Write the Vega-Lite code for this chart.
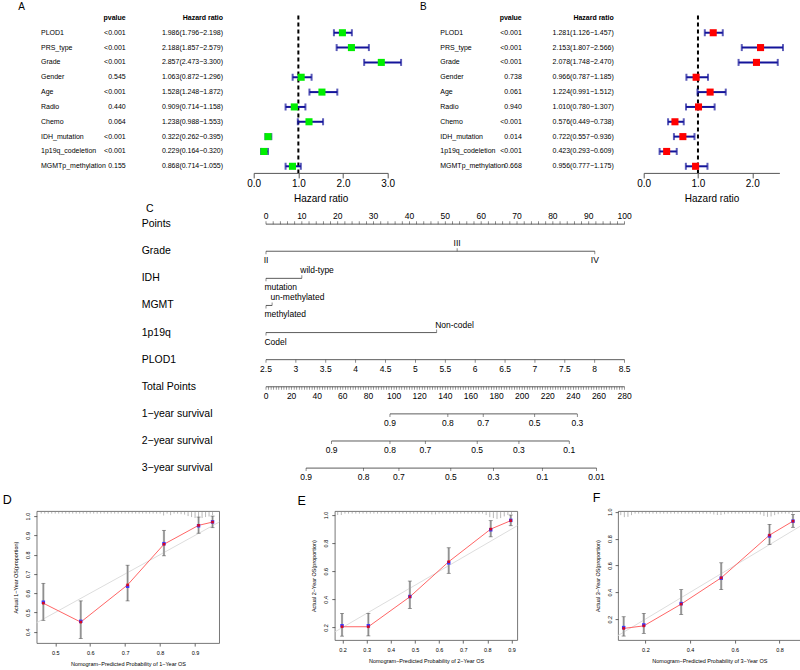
{
"$schema":"https://vega.github.io/schema/vega-lite/v6.json",
"padding":{"left":1.7,"top":1.6,"right":0,"bottom":0},
"background":"white",
"config":{"view":{"stroke":null},"font":"Liberation Sans","title":{"font":"Liberation Sans","fontWeight":"normal","color":"black"},"axis":{"labelFont":"Liberation Sans","titleFont":"Liberation Sans","titleFontWeight":"normal","labelColor":"black","titleColor":"black","grid":false,"labelOverlap":false},"text":{"font":"Liberation Sans","color":"black"}},
"datasets":{
"forestA":[
{"var":"PLOD1","pvalue":"<0.001","Hazard ratio":"1.986(1.796−2.198)","hr":1.986,"lo":1.796,"hi":2.198},
{"var":"PRS_type","pvalue":"<0.001","Hazard ratio":"2.188(1.857−2.579)","hr":2.188,"lo":1.857,"hi":2.579},
{"var":"Grade","pvalue":"<0.001","Hazard ratio":"2.857(2.473−3.300)","hr":2.857,"lo":2.473,"hi":3.3},
{"var":"Gender","pvalue":"0.545","Hazard ratio":"1.063(0.872−1.296)","hr":1.063,"lo":0.872,"hi":1.296},
{"var":"Age","pvalue":"<0.001","Hazard ratio":"1.528(1.248−1.872)","hr":1.528,"lo":1.248,"hi":1.872},
{"var":"Radio","pvalue":"0.440","Hazard ratio":"0.909(0.714−1.158)","hr":0.909,"lo":0.714,"hi":1.158},
{"var":"Chemo","pvalue":"0.064","Hazard ratio":"1.238(0.988−1.553)","hr":1.238,"lo":0.988,"hi":1.553},
{"var":"IDH_mutation","pvalue":"<0.001","Hazard ratio":"0.322(0.262−0.395)","hr":0.322,"lo":0.262,"hi":0.395},
{"var":"1p19q_codeletion","pvalue":"<0.001","Hazard ratio":"0.229(0.164−0.320)","hr":0.229,"lo":0.164,"hi":0.32},
{"var":"MGMTp_methylation","pvalue":"0.155","Hazard ratio":"0.868(0.714−1.055)","hr":0.868,"lo":0.714,"hi":1.055}
],
"forestB":[
{"var":"PLOD1","pvalue":"<0.001","Hazard ratio":"1.281(1.126−1.457)","hr":1.281,"lo":1.126,"hi":1.457},
{"var":"PRS_type","pvalue":"<0.001","Hazard ratio":"2.153(1.807−2.566)","hr":2.153,"lo":1.807,"hi":2.566},
{"var":"Grade","pvalue":"<0.001","Hazard ratio":"2.078(1.748−2.470)","hr":2.078,"lo":1.748,"hi":2.47},
{"var":"Gender","pvalue":"0.738","Hazard ratio":"0.966(0.787−1.185)","hr":0.966,"lo":0.787,"hi":1.185},
{"var":"Age","pvalue":"0.061","Hazard ratio":"1.224(0.991−1.512)","hr":1.224,"lo":0.991,"hi":1.512},
{"var":"Radio","pvalue":"0.940","Hazard ratio":"1.010(0.780−1.307)","hr":1.01,"lo":0.78,"hi":1.307},
{"var":"Chemo","pvalue":"<0.001","Hazard ratio":"0.576(0.449−0.738)","hr":0.576,"lo":0.449,"hi":0.738},
{"var":"IDH_mutation","pvalue":"0.014","Hazard ratio":"0.722(0.557−0.936)","hr":0.722,"lo":0.557,"hi":0.936},
{"var":"1p19q_codeletion","pvalue":"<0.001","Hazard ratio":"0.423(0.293−0.609)","hr":0.423,"lo":0.293,"hi":0.609},
{"var":"MGMTp_methylation","pvalue":"0.668","Hazard ratio":"0.956(0.777−1.175)","hr":0.956,"lo":0.777,"hi":1.175}
],
"hdr":[{"var":"header","key":"pvalue"},{"var":"header","key":"Hazard ratio"}],
"refline":[{"hr":1}],
"rows":[{"row":"Points"},{"row":"Grade"},{"row":"IDH"},{"row":"MGMT"},{"row":"1p19q"},{"row":"PLOD1"},{"row":"Total Points"},{"row":"1−year survival"},{"row":"2−year survival"},{"row":"3−year survival"}],
"pts":[{"row":"Points","v":0},{"row":"Points","v":2},{"row":"Points","v":4},{"row":"Points","v":6},{"row":"Points","v":8},{"row":"Points","v":10},{"row":"Points","v":12},{"row":"Points","v":14},{"row":"Points","v":16},{"row":"Points","v":18},{"row":"Points","v":20},{"row":"Points","v":22},{"row":"Points","v":24},{"row":"Points","v":26},{"row":"Points","v":28},{"row":"Points","v":30},{"row":"Points","v":32},{"row":"Points","v":34},{"row":"Points","v":36},{"row":"Points","v":38},{"row":"Points","v":40},{"row":"Points","v":42},{"row":"Points","v":44},{"row":"Points","v":46},{"row":"Points","v":48},{"row":"Points","v":50},{"row":"Points","v":52},{"row":"Points","v":54},{"row":"Points","v":56},{"row":"Points","v":58},{"row":"Points","v":60},{"row":"Points","v":62},{"row":"Points","v":64},{"row":"Points","v":66},{"row":"Points","v":68},{"row":"Points","v":70},{"row":"Points","v":72},{"row":"Points","v":74},{"row":"Points","v":76},{"row":"Points","v":78},{"row":"Points","v":80},{"row":"Points","v":82},{"row":"Points","v":84},{"row":"Points","v":86},{"row":"Points","v":88},{"row":"Points","v":90},{"row":"Points","v":92},{"row":"Points","v":94},{"row":"Points","v":96},{"row":"Points","v":98},{"row":"Points","v":100}],
"cat":[
{"row":"Grade","v":0,"label":"II","side":"down"},
{"row":"Grade","v":53.3,"label":"III","side":"up"},
{"row":"Grade","v":91.7,"label":"IV","side":"down"},
{"row":"IDH","v":0,"label":"mutation","side":"down"},
{"row":"IDH","v":10,"label":"wild-type","side":"up"},
{"row":"MGMT","v":0,"label":"methylated","side":"down"},
{"row":"MGMT","v":1.7,"label":"un-methylated","side":"up"},
{"row":"1p19q","v":0,"label":"Codel","side":"down"},
{"row":"1p19q","v":47.6,"label":"Non-codel","side":"up"}
],
"plod":[{"row":"PLOD1","v":2.5,"label":"2.5"},{"row":"PLOD1","v":3,"label":"3"},{"row":"PLOD1","v":3.5,"label":"3.5"},{"row":"PLOD1","v":4,"label":"4"},{"row":"PLOD1","v":4.5,"label":"4.5"},{"row":"PLOD1","v":5,"label":"5"},{"row":"PLOD1","v":5.5,"label":"5.5"},{"row":"PLOD1","v":6,"label":"6"},{"row":"PLOD1","v":6.5,"label":"6.5"},{"row":"PLOD1","v":7,"label":"7"},{"row":"PLOD1","v":7.5,"label":"7.5"},{"row":"PLOD1","v":8,"label":"8"},{"row":"PLOD1","v":8.5,"label":"8.5"}],
"tp":[{"row":"Total Points","v":0},{"row":"Total Points","v":2},{"row":"Total Points","v":4},{"row":"Total Points","v":6},{"row":"Total Points","v":8},{"row":"Total Points","v":10},{"row":"Total Points","v":12},{"row":"Total Points","v":14},{"row":"Total Points","v":16},{"row":"Total Points","v":18},{"row":"Total Points","v":20},{"row":"Total Points","v":22},{"row":"Total Points","v":24},{"row":"Total Points","v":26},{"row":"Total Points","v":28},{"row":"Total Points","v":30},{"row":"Total Points","v":32},{"row":"Total Points","v":34},{"row":"Total Points","v":36},{"row":"Total Points","v":38},{"row":"Total Points","v":40},{"row":"Total Points","v":42},{"row":"Total Points","v":44},{"row":"Total Points","v":46},{"row":"Total Points","v":48},{"row":"Total Points","v":50},{"row":"Total Points","v":52},{"row":"Total Points","v":54},{"row":"Total Points","v":56},{"row":"Total Points","v":58},{"row":"Total Points","v":60},{"row":"Total Points","v":62},{"row":"Total Points","v":64},{"row":"Total Points","v":66},{"row":"Total Points","v":68},{"row":"Total Points","v":70},{"row":"Total Points","v":72},{"row":"Total Points","v":74},{"row":"Total Points","v":76},{"row":"Total Points","v":78},{"row":"Total Points","v":80},{"row":"Total Points","v":82},{"row":"Total Points","v":84},{"row":"Total Points","v":86},{"row":"Total Points","v":88},{"row":"Total Points","v":90},{"row":"Total Points","v":92},{"row":"Total Points","v":94},{"row":"Total Points","v":96},{"row":"Total Points","v":98},{"row":"Total Points","v":100},{"row":"Total Points","v":102},{"row":"Total Points","v":104},{"row":"Total Points","v":106},{"row":"Total Points","v":108},{"row":"Total Points","v":110},{"row":"Total Points","v":112},{"row":"Total Points","v":114},{"row":"Total Points","v":116},{"row":"Total Points","v":118},{"row":"Total Points","v":120},{"row":"Total Points","v":122},{"row":"Total Points","v":124},{"row":"Total Points","v":126},{"row":"Total Points","v":128},{"row":"Total Points","v":130},{"row":"Total Points","v":132},{"row":"Total Points","v":134},{"row":"Total Points","v":136},{"row":"Total Points","v":138},{"row":"Total Points","v":140},{"row":"Total Points","v":142},{"row":"Total Points","v":144},{"row":"Total Points","v":146},{"row":"Total Points","v":148},{"row":"Total Points","v":150},{"row":"Total Points","v":152},{"row":"Total Points","v":154},{"row":"Total Points","v":156},{"row":"Total Points","v":158},{"row":"Total Points","v":160},{"row":"Total Points","v":162},{"row":"Total Points","v":164},{"row":"Total Points","v":166},{"row":"Total Points","v":168},{"row":"Total Points","v":170},{"row":"Total Points","v":172},{"row":"Total Points","v":174},{"row":"Total Points","v":176},{"row":"Total Points","v":178},{"row":"Total Points","v":180},{"row":"Total Points","v":182},{"row":"Total Points","v":184},{"row":"Total Points","v":186},{"row":"Total Points","v":188},{"row":"Total Points","v":190},{"row":"Total Points","v":192},{"row":"Total Points","v":194},{"row":"Total Points","v":196},{"row":"Total Points","v":198},{"row":"Total Points","v":200},{"row":"Total Points","v":202},{"row":"Total Points","v":204},{"row":"Total Points","v":206},{"row":"Total Points","v":208},{"row":"Total Points","v":210},{"row":"Total Points","v":212},{"row":"Total Points","v":214},{"row":"Total Points","v":216},{"row":"Total Points","v":218},{"row":"Total Points","v":220},{"row":"Total Points","v":222},{"row":"Total Points","v":224},{"row":"Total Points","v":226},{"row":"Total Points","v":228},{"row":"Total Points","v":230},{"row":"Total Points","v":232},{"row":"Total Points","v":234},{"row":"Total Points","v":236},{"row":"Total Points","v":238},{"row":"Total Points","v":240},{"row":"Total Points","v":242},{"row":"Total Points","v":244},{"row":"Total Points","v":246},{"row":"Total Points","v":248},{"row":"Total Points","v":250},{"row":"Total Points","v":252},{"row":"Total Points","v":254},{"row":"Total Points","v":256},{"row":"Total Points","v":258},{"row":"Total Points","v":260},{"row":"Total Points","v":262},{"row":"Total Points","v":264},{"row":"Total Points","v":266},{"row":"Total Points","v":268},{"row":"Total Points","v":270},{"row":"Total Points","v":272},{"row":"Total Points","v":274},{"row":"Total Points","v":276},{"row":"Total Points","v":278},{"row":"Total Points","v":280}],
"surv":[
{"row":"1−year survival","v":96.8,"label":"0.9"},{"row":"1−year survival","v":142.0,"label":"0.8"},{"row":"1−year survival","v":169.6,"label":"0.7"},{"row":"1−year survival","v":209.8,"label":"0.5"},{"row":"1−year survival","v":243.1,"label":"0.3"},
{"row":"2−year survival","v":51.2,"label":"0.9"},{"row":"2−year survival","v":96.8,"label":"0.8"},{"row":"2−year survival","v":124.4,"label":"0.7"},{"row":"2−year survival","v":164.9,"label":"0.5"},{"row":"2−year survival","v":197.5,"label":"0.3"},{"row":"2−year survival","v":236.8,"label":"0.1"},
{"row":"3−year survival","v":31.3,"label":"0.9"},{"row":"3−year survival","v":76.2,"label":"0.8"},{"row":"3−year survival","v":103.8,"label":"0.7"},{"row":"3−year survival","v":144.3,"label":"0.5"},{"row":"3−year survival","v":177.6,"label":"0.3"},{"row":"3−year survival","v":215.8,"label":"0.1"},{"row":"3−year survival","v":258.1,"label":"0.01"}
],
"calD":[{"x":0.466,"obs":0.548,"cor":0.553,"lo":0.459,"hi":0.651},{"x":0.573,"obs":0.45,"cor":0.454,"lo":0.365,"hi":0.56},{"x":0.707,"obs":0.643,"cor":0.636,"lo":0.56,"hi":0.745},{"x":0.811,"obs":0.854,"cor":0.857,"lo":0.794,"hi":0.926},{"x":0.91,"obs":0.952,"cor":0.95,"lo":0.911,"hi":0.995},{"x":0.95,"obs":0.969,"cor":0.97,"lo":0.94,"hi":1.0}],
"calE":[{"x":0.198,"obs":0.205,"cor":0.212,"lo":0.138,"hi":0.3},{"x":0.307,"obs":0.205,"cor":0.212,"lo":0.14,"hi":0.3},{"x":0.479,"obs":0.418,"cor":0.42,"lo":0.335,"hi":0.53},{"x":0.64,"obs":0.668,"cor":0.66,"lo":0.585,"hi":0.767},{"x":0.814,"obs":0.9,"cor":0.895,"lo":0.845,"hi":0.96},{"x":0.897,"obs":0.96,"cor":0.962,"lo":0.924,"hi":1.0}],
"calF":[{"x":0.103,"obs":0.131,"cor":0.137,"lo":0.074,"hi":0.218},{"x":0.193,"obs":0.15,"cor":0.157,"lo":0.094,"hi":0.243},{"x":0.36,"obs":0.312,"cor":0.316,"lo":0.235,"hi":0.42},{"x":0.539,"obs":0.508,"cor":0.505,"lo":0.42,"hi":0.62},{"x":0.755,"obs":0.826,"cor":0.82,"lo":0.757,"hi":0.906},{"x":0.86,"obs":0.93,"cor":0.93,"lo":0.884,"hi":0.98}],
"rugD":[{"x":0.46,"lo":1.013,"hi":1.026},{"x":0.47,"lo":1.013,"hi":1.026},{"x":0.48,"lo":1.013,"hi":1.026},{"x":0.49,"lo":1.013,"hi":1.026},{"x":0.5,"lo":1.013,"hi":1.026},{"x":0.51,"lo":1.013,"hi":1.026},{"x":0.52,"lo":1.013,"hi":1.026},{"x":0.53,"lo":1.013,"hi":1.026},{"x":0.54,"lo":1.013,"hi":1.026},{"x":0.55,"lo":1.013,"hi":1.026},{"x":0.56,"lo":1.013,"hi":1.026},{"x":0.57,"lo":1.013,"hi":1.026},{"x":0.58,"lo":1.013,"hi":1.026},{"x":0.59,"lo":1.013,"hi":1.026},{"x":0.6,"lo":1.013,"hi":1.026},{"x":0.61,"lo":1.013,"hi":1.026},{"x":0.62,"lo":1.013,"hi":1.026},{"x":0.63,"lo":1.013,"hi":1.026},{"x":0.64,"lo":1.013,"hi":1.026},{"x":0.65,"lo":1.013,"hi":1.026},{"x":0.66,"lo":1.013,"hi":1.026},{"x":0.67,"lo":1.013,"hi":1.026},{"x":0.68,"lo":1.013,"hi":1.026},{"x":0.69,"lo":1.013,"hi":1.026},{"x":0.7,"lo":1.013,"hi":1.026},{"x":0.71,"lo":1.013,"hi":1.026},{"x":0.72,"lo":1.013,"hi":1.026},{"x":0.73,"lo":1.013,"hi":1.026},{"x":0.74,"lo":1.013,"hi":1.026},{"x":0.75,"lo":1.013,"hi":1.026},{"x":0.76,"lo":1.013,"hi":1.026},{"x":0.77,"lo":1.013,"hi":1.026},{"x":0.78,"lo":1.013,"hi":1.026},{"x":0.79,"lo":1.013,"hi":1.026},{"x":0.8,"lo":1.013,"hi":1.026},{"x":0.81,"lo":1.003,"hi":1.026},{"x":0.82,"lo":1.013,"hi":1.026},{"x":0.83,"lo":1.005,"hi":1.026},{"x":0.84,"lo":1.013,"hi":1.026},{"x":0.85,"lo":1.013,"hi":1.026},{"x":0.86,"lo":1.01,"hi":1.026},{"x":0.87,"lo":1.008,"hi":1.026},{"x":0.88,"lo":1.0,"hi":1.026},{"x":0.89,"lo":0.995,"hi":1.026},{"x":0.9,"lo":0.99,"hi":1.026},{"x":0.91,"lo":0.992,"hi":1.026},{"x":0.92,"lo":0.99,"hi":1.026},{"x":0.93,"lo":0.995,"hi":1.026},{"x":0.94,"lo":0.998,"hi":1.026},{"x":0.95,"lo":1.005,"hi":1.026}],
"rugE":[{"x":0.18,"lo":1.0,"hi":1.028},{"x":0.195,"lo":1.0,"hi":1.028},{"x":0.21,"lo":1.01,"hi":1.028},{"x":0.225,"lo":1.01,"hi":1.028},{"x":0.24,"lo":1.01,"hi":1.028},{"x":0.255,"lo":1.01,"hi":1.028},{"x":0.27,"lo":1.01,"hi":1.028},{"x":0.285,"lo":1.01,"hi":1.028},{"x":0.3,"lo":1.01,"hi":1.028},{"x":0.315,"lo":1.01,"hi":1.028},{"x":0.33,"lo":1.01,"hi":1.028},{"x":0.345,"lo":1.01,"hi":1.028},{"x":0.36,"lo":1.01,"hi":1.028},{"x":0.375,"lo":1.01,"hi":1.028},{"x":0.39,"lo":1.01,"hi":1.028},{"x":0.405,"lo":1.01,"hi":1.028},{"x":0.42,"lo":1.01,"hi":1.028},{"x":0.435,"lo":1.01,"hi":1.028},{"x":0.45,"lo":1.01,"hi":1.028},{"x":0.465,"lo":1.01,"hi":1.028},{"x":0.48,"lo":1.01,"hi":1.028},{"x":0.495,"lo":1.01,"hi":1.028},{"x":0.51,"lo":1.01,"hi":1.028},{"x":0.525,"lo":1.01,"hi":1.028},{"x":0.54,"lo":1.01,"hi":1.028},{"x":0.555,"lo":1.01,"hi":1.028},{"x":0.57,"lo":1.005,"hi":1.028},{"x":0.585,"lo":1.005,"hi":1.028},{"x":0.6,"lo":1.01,"hi":1.028},{"x":0.615,"lo":1.01,"hi":1.028},{"x":0.63,"lo":1.01,"hi":1.028},{"x":0.645,"lo":1.01,"hi":1.028},{"x":0.66,"lo":1.01,"hi":1.028},{"x":0.675,"lo":1.01,"hi":1.028},{"x":0.69,"lo":1.01,"hi":1.028},{"x":0.705,"lo":1.01,"hi":1.028},{"x":0.72,"lo":1.01,"hi":1.028},{"x":0.735,"lo":1.01,"hi":1.028},{"x":0.75,"lo":1.01,"hi":1.028},{"x":0.765,"lo":1.01,"hi":1.028},{"x":0.78,"lo":1.01,"hi":1.028},{"x":0.795,"lo":1.0,"hi":1.028},{"x":0.81,"lo":0.985,"hi":1.028},{"x":0.825,"lo":0.978,"hi":1.028},{"x":0.84,"lo":0.972,"hi":1.028},{"x":0.855,"lo":0.978,"hi":1.028},{"x":0.87,"lo":0.99,"hi":1.028},{"x":0.885,"lo":1.0,"hi":1.028},{"x":0.9,"lo":1.005,"hi":1.028}],
"rugF":[{"x":0.09,"lo":0.975,"hi":1.005},{"x":0.106,"lo":0.96,"hi":1.005},{"x":0.122,"lo":0.962,"hi":1.005},{"x":0.138,"lo":0.975,"hi":1.005},{"x":0.154,"lo":0.986,"hi":1.005},{"x":0.17,"lo":0.986,"hi":1.005},{"x":0.186,"lo":0.986,"hi":1.005},{"x":0.202,"lo":0.986,"hi":1.005},{"x":0.218,"lo":0.986,"hi":1.005},{"x":0.234,"lo":0.986,"hi":1.005},{"x":0.25,"lo":0.986,"hi":1.005},{"x":0.266,"lo":0.986,"hi":1.005},{"x":0.282,"lo":0.986,"hi":1.005},{"x":0.298,"lo":0.986,"hi":1.005},{"x":0.314,"lo":0.986,"hi":1.005},{"x":0.33,"lo":0.986,"hi":1.005},{"x":0.346,"lo":0.986,"hi":1.005},{"x":0.362,"lo":0.986,"hi":1.005},{"x":0.378,"lo":0.986,"hi":1.005},{"x":0.394,"lo":0.986,"hi":1.005},{"x":0.41,"lo":0.986,"hi":1.005},{"x":0.426,"lo":0.986,"hi":1.005},{"x":0.442,"lo":0.986,"hi":1.005},{"x":0.458,"lo":0.986,"hi":1.005},{"x":0.474,"lo":0.986,"hi":1.005},{"x":0.49,"lo":0.986,"hi":1.005},{"x":0.506,"lo":0.98,"hi":1.005},{"x":0.522,"lo":0.976,"hi":1.005},{"x":0.538,"lo":0.976,"hi":1.005},{"x":0.554,"lo":0.982,"hi":1.005},{"x":0.57,"lo":0.986,"hi":1.005},{"x":0.586,"lo":0.986,"hi":1.005},{"x":0.602,"lo":0.986,"hi":1.005},{"x":0.618,"lo":0.986,"hi":1.005},{"x":0.634,"lo":0.986,"hi":1.005},{"x":0.65,"lo":0.986,"hi":1.005},{"x":0.666,"lo":0.986,"hi":1.005},{"x":0.682,"lo":0.986,"hi":1.005},{"x":0.698,"lo":0.986,"hi":1.005},{"x":0.714,"lo":0.98,"hi":1.005},{"x":0.73,"lo":0.968,"hi":1.005},{"x":0.746,"lo":0.962,"hi":1.005},{"x":0.762,"lo":0.965,"hi":1.005},{"x":0.778,"lo":0.975,"hi":1.005},{"x":0.794,"lo":0.982,"hi":1.005},{"x":0.81,"lo":0.986,"hi":1.005},{"x":0.826,"lo":0.986,"hi":1.005},{"x":0.842,"lo":0.986,"hi":1.005},{"x":0.858,"lo":0.986,"hi":1.005}]
},
"vconcat":[
{"hconcat":[
{"width":8.6,"height":157.3,"data":{"name":"forestA"},
 "title":{"text":"A","anchor":"start","frame":"group","dx":-18.4,"offset":-4.3,"fontSize":10,"baseline":"alphabetic"},
 "mark":{"type":"text","align":"left","baseline":"middle","fontSize":7},
 "encoding":{"y":{"field":"var","type":"nominal","scale":{"type":"point","domain":["header","PLOD1","PRS_type","Grade","Gender","Age","Radio","Chemo","IDH_mutation","1p19q_codeletion","MGMTp_methylation"],"padding":0.3,"align":0.258},"axis":null},"text":{"field":"var"}}},
{"width":167.4,"height":157.3,
 "layer":[
  {"data":{"name":"forestA"},"transform":[{"fold":["pvalue","Hazard ratio"],"as":["key","value"]}],"mark":{"type":"text","align":"right","baseline":"middle","fontSize":7},"encoding":{"x":{"field":"key","type":"nominal","scale":{"type":"point","domain":["pvalue","Hazard ratio"],"padding":0.3593,"align":0.857},"axis":null},"y":{"field":"var","type":"nominal","scale":{"type":"point","domain":["header","PLOD1","PRS_type","Grade","Gender","Age","Radio","Chemo","IDH_mutation","1p19q_codeletion","MGMTp_methylation"],"padding":0.3,"align":0.258},"axis":null},"text":{"field":"value"}}},
  {"data":{"name":"hdr"},"mark":{"type":"text","align":"right","baseline":"middle","fontSize":7,"fontWeight":"bold"},"encoding":{"x":{"field":"key","type":"nominal","scale":{"type":"point","domain":["pvalue","Hazard ratio"],"padding":0.3593,"align":0.857},"axis":null},"y":{"field":"var","type":"nominal","scale":{"type":"point","domain":["header","PLOD1","PRS_type","Grade","Gender","Age","Radio","Chemo","IDH_mutation","1p19q_codeletion","MGMTp_methylation"],"padding":0.3,"align":0.258},"axis":null},"text":{"field":"key"}}}
 ]},
{"width":134,"height":157.3,
 "layer":[
  {"data":{"name":"refline"},"mark":{"type":"rule","color":"black","strokeWidth":2,"strokeDash":[4,3]},"encoding":{"x":{"field":"hr","type":"quantitative","scale":{"domain":[0,3],"nice":false,"zero":false},"axis":{"values":[0,0.5,1,1.5,2,2.5,3],"format":".1f","title":"Hazard ratio","labelFontSize":10,"titleFontSize":10,"tickSize":5,"labelPadding":1,"titlePadding":5,"domainColor":"#555","tickColor":"#555","labelFlush":false,"labelOverlap":false}}}},
  {"data":{"name":"forestA"},"mark":{"type":"rule","color":"#14149a","strokeWidth":2},"encoding":{"x":{"field":"lo","type":"quantitative","scale":{"domain":[0,3],"nice":false,"zero":false},"axis":{"values":[0,0.5,1,1.5,2,2.5,3],"format":".1f","title":"Hazard ratio","labelFontSize":10,"titleFontSize":10,"tickSize":5,"labelPadding":1,"titlePadding":5,"domainColor":"#555","tickColor":"#555","labelFlush":false,"labelOverlap":false}},"x2":{"field":"hi"},"y":{"field":"var","type":"nominal","scale":{"type":"point","domain":["header","PLOD1","PRS_type","Grade","Gender","Age","Radio","Chemo","IDH_mutation","1p19q_codeletion","MGMTp_methylation"],"padding":0.3,"align":0.258},"axis":null}}},
  {"data":{"name":"forestA"},"mark":{"type":"tick","orient":"vertical","color":"#14149a","thickness":2,"size":7},"encoding":{"x":{"field":"lo","type":"quantitative","scale":{"domain":[0,3],"nice":false,"zero":false}},"y":{"field":"var","type":"nominal","scale":{"type":"point","domain":["header","PLOD1","PRS_type","Grade","Gender","Age","Radio","Chemo","IDH_mutation","1p19q_codeletion","MGMTp_methylation"],"padding":0.3,"align":0.258},"axis":null}}},
  {"data":{"name":"forestA"},"mark":{"type":"tick","orient":"vertical","color":"#14149a","thickness":2,"size":7},"encoding":{"x":{"field":"hi","type":"quantitative","scale":{"domain":[0,3],"nice":false,"zero":false}},"y":{"field":"var","type":"nominal","scale":{"type":"point","domain":["header","PLOD1","PRS_type","Grade","Gender","Age","Radio","Chemo","IDH_mutation","1p19q_codeletion","MGMTp_methylation"],"padding":0.3,"align":0.258},"axis":null}}},
  {"data":{"name":"forestA"},"mark":{"type":"point","shape":"square","filled":true,"size":50,"color":"#00ee00","opacity":1},"encoding":{"x":{"field":"hr","type":"quantitative","scale":{"domain":[0,3],"nice":false,"zero":false}},"y":{"field":"var","type":"nominal","scale":{"type":"point","domain":["header","PLOD1","PRS_type","Grade","Gender","Age","Radio","Chemo","IDH_mutation","1p19q_codeletion","MGMTp_methylation"],"padding":0.3,"align":0.258},"axis":null}}}
 ]},
{"width":65.2,"height":157.3,"data":{"name":"forestB"},
 "title":{"text":"B","anchor":"start","frame":"group","dx":12.3,"offset":-4.3,"fontSize":10,"baseline":"alphabetic"},
 "mark":{"type":"text","align":"left","baseline":"middle","fontSize":7},
 "encoding":{"y":{"field":"var","type":"nominal","scale":{"type":"point","domain":["header","PLOD1","PRS_type","Grade","Gender","Age","Radio","Chemo","IDH_mutation","1p19q_codeletion","MGMTp_methylation"],"padding":0.3,"align":0.258},"axis":null},"text":{"field":"var"}}},
{"width":129.1,"height":157.3,
 "layer":[
  {"data":{"name":"forestB"},"transform":[{"fold":["pvalue","Hazard ratio"],"as":["key","value"]}],"mark":{"type":"text","align":"right","baseline":"middle","fontSize":7},"encoding":{"x":{"field":"key","type":"nominal","scale":{"type":"point","domain":["pvalue","Hazard ratio"],"padding":0.2016,"align":0.757},"axis":null},"y":{"field":"var","type":"nominal","scale":{"type":"point","domain":["header","PLOD1","PRS_type","Grade","Gender","Age","Radio","Chemo","IDH_mutation","1p19q_codeletion","MGMTp_methylation"],"padding":0.3,"align":0.258},"axis":null},"text":{"field":"value"}}},
  {"data":{"name":"hdr"},"mark":{"type":"text","align":"right","baseline":"middle","fontSize":7,"fontWeight":"bold"},"encoding":{"x":{"field":"key","type":"nominal","scale":{"type":"point","domain":["pvalue","Hazard ratio"],"padding":0.2016,"align":0.757},"axis":null},"y":{"field":"var","type":"nominal","scale":{"type":"point","domain":["header","PLOD1","PRS_type","Grade","Gender","Age","Radio","Chemo","IDH_mutation","1p19q_codeletion","MGMTp_methylation"],"padding":0.3,"align":0.258},"axis":null},"text":{"field":"key"}}}
 ]},
{"width":135.7,"height":157.3,
 "layer":[
  {"data":{"name":"refline"},"mark":{"type":"rule","color":"black","strokeWidth":2,"strokeDash":[4,3]},"encoding":{"x":{"field":"hr","type":"quantitative","scale":{"domain":[0,2.5],"nice":false,"zero":false},"axis":{"values":[0,0.5,1,1.5,2,2.5],"format":".1f","title":"Hazard ratio","labelFontSize":10,"titleFontSize":10,"tickSize":5,"labelPadding":1,"titlePadding":5,"domainColor":"#555","tickColor":"#555","labelFlush":false,"labelOverlap":false}}}},
  {"data":{"name":"forestB"},"mark":{"type":"rule","color":"#14149a","strokeWidth":2},"encoding":{"x":{"field":"lo","type":"quantitative","scale":{"domain":[0,2.5],"nice":false,"zero":false},"axis":{"values":[0,0.5,1,1.5,2,2.5],"format":".1f","title":"Hazard ratio","labelFontSize":10,"titleFontSize":10,"tickSize":5,"labelPadding":1,"titlePadding":5,"domainColor":"#555","tickColor":"#555","labelFlush":false,"labelOverlap":false}},"x2":{"field":"hi"},"y":{"field":"var","type":"nominal","scale":{"type":"point","domain":["header","PLOD1","PRS_type","Grade","Gender","Age","Radio","Chemo","IDH_mutation","1p19q_codeletion","MGMTp_methylation"],"padding":0.3,"align":0.258},"axis":null}}},
  {"data":{"name":"forestB"},"mark":{"type":"tick","orient":"vertical","color":"#14149a","thickness":2,"size":7},"encoding":{"x":{"field":"lo","type":"quantitative","scale":{"domain":[0,2.5],"nice":false,"zero":false}},"y":{"field":"var","type":"nominal","scale":{"type":"point","domain":["header","PLOD1","PRS_type","Grade","Gender","Age","Radio","Chemo","IDH_mutation","1p19q_codeletion","MGMTp_methylation"],"padding":0.3,"align":0.258},"axis":null}}},
  {"data":{"name":"forestB"},"mark":{"type":"tick","orient":"vertical","color":"#14149a","thickness":2,"size":7},"encoding":{"x":{"field":"hi","type":"quantitative","scale":{"domain":[0,2.5],"nice":false,"zero":false}},"y":{"field":"var","type":"nominal","scale":{"type":"point","domain":["header","PLOD1","PRS_type","Grade","Gender","Age","Radio","Chemo","IDH_mutation","1p19q_codeletion","MGMTp_methylation"],"padding":0.3,"align":0.258},"axis":null}}},
  {"data":{"name":"forestB"},"mark":{"type":"point","shape":"square","filled":true,"size":50,"color":"#ff0000","opacity":1},"encoding":{"x":{"field":"hr","type":"quantitative","scale":{"domain":[0,2.5],"nice":false,"zero":false}},"y":{"field":"var","type":"nominal","scale":{"type":"point","domain":["header","PLOD1","PRS_type","Grade","Gender","Age","Radio","Chemo","IDH_mutation","1p19q_codeletion","MGMTp_methylation"],"padding":0.3,"align":0.258},"axis":null}}}
 ]}
],"spacing":20,"bounds":"flush"},
{"vconcat":[
{"hconcat":[
{"width":210,"height":270,"data":{"name":"rows"},
 "title":{"text":"C","anchor":"start","frame":"group","dx":109.3,"offset":-11.7,"fontSize":10.5,"baseline":"alphabetic"},
 "mark":{"type":"text","align":"left","baseline":"middle","fontSize":10.5},
 "encoding":{"y":{"field":"row","type":"nominal","scale":{"type":"point","domain":["Points","Grade","IDH","MGMT","1p19q","PLOD1","Total Points","1−year survival","2−year survival","3−year survival"],"padding":0.48,"align":0.52},"axis":null},"text":{"field":"row"}}},
{"width":358.6,"height":270,
 "resolve":{"scale":{"x":"independent"}},
 "layer":[
   {"data":{"name":"pts"},"transform":[{"aggregate":[{"op":"min","field":"v","as":"lo"},{"op":"max","field":"v","as":"hi"}],"groupby":["row"]}],"mark":{"type":"rule","color":"#333","strokeWidth":0.8},"encoding":{"x":{"field":"lo","type":"quantitative","scale":{"domain":[0,100],"nice":false,"zero":false},"axis":null},"x2":{"field":"hi"},"y":{"field":"row","type":"nominal","scale":{"type":"point","domain":["Points","Grade","IDH","MGMT","1p19q","PLOD1","Total Points","1−year survival","2−year survival","3−year survival"],"padding":0.48,"align":0.52},"axis":null}}},
   {"data":{"name":"pts"},"mark":{"type":"tick","orient":"vertical","size":3,"thickness":0.8,"yOffset":-1.5,"color":"#333"},"encoding":{"x":{"field":"v","type":"quantitative","scale":{"domain":[0,100],"nice":false,"zero":false},"axis":null},"y":{"field":"row","type":"nominal","scale":{"type":"point","domain":["Points","Grade","IDH","MGMT","1p19q","PLOD1","Total Points","1−year survival","2−year survival","3−year survival"],"padding":0.48,"align":0.52},"axis":null}}},
   {"data":{"name":"pts"},"transform":[{"filter":"datum.v % 10 == 0"}],"mark":{"type":"text","fontSize":8.5,"dy":-8,"baseline":"middle","align":"center"},"encoding":{"x":{"field":"v","type":"quantitative","scale":{"domain":[0,100],"nice":false,"zero":false},"axis":null},"y":{"field":"row","type":"nominal","scale":{"type":"point","domain":["Points","Grade","IDH","MGMT","1p19q","PLOD1","Total Points","1−year survival","2−year survival","3−year survival"],"padding":0.48,"align":0.52},"axis":null},"text":{"field":"v","type":"quantitative","format":"d"}}},
   {"data":{"name":"cat"},"transform":[{"aggregate":[{"op":"min","field":"v","as":"lo"},{"op":"max","field":"v","as":"hi"}],"groupby":["row"]}],"mark":{"type":"rule","color":"#333","strokeWidth":0.8},"encoding":{"x":{"field":"lo","type":"quantitative","scale":{"domain":[0,100],"nice":false,"zero":false},"axis":null},"x2":{"field":"hi"},"y":{"field":"row","type":"nominal","scale":{"type":"point","domain":["Points","Grade","IDH","MGMT","1p19q","PLOD1","Total Points","1−year survival","2−year survival","3−year survival"],"padding":0.48,"align":0.52},"axis":null}}},
   {"data":{"name":"cat"},"transform":[{"filter":"datum.side == 'up'"}],"mark":{"type":"tick","orient":"vertical","size":3,"thickness":0.8,"yOffset":-1.5,"color":"#333"},"encoding":{"x":{"field":"v","type":"quantitative","scale":{"domain":[0,100],"nice":false,"zero":false},"axis":null},"y":{"field":"row","type":"nominal","scale":{"type":"point","domain":["Points","Grade","IDH","MGMT","1p19q","PLOD1","Total Points","1−year survival","2−year survival","3−year survival"],"padding":0.48,"align":0.52},"axis":null}}},
   {"data":{"name":"cat"},"transform":[{"filter":"datum.side == 'down'"}],"mark":{"type":"tick","orient":"vertical","size":3,"thickness":0.8,"yOffset":1.5,"color":"#333"},"encoding":{"x":{"field":"v","type":"quantitative","scale":{"domain":[0,100],"nice":false,"zero":false},"axis":null},"y":{"field":"row","type":"nominal","scale":{"type":"point","domain":["Points","Grade","IDH","MGMT","1p19q","PLOD1","Total Points","1−year survival","2−year survival","3−year survival"],"padding":0.48,"align":0.52},"axis":null}}},
   {"data":{"name":"cat"},"transform":[{"filter":"datum.side == 'up' && datum.row == 'Grade'"}],"mark":{"type":"text","fontSize":8.5,"dy":-8,"baseline":"middle","align":"center"},"encoding":{"x":{"field":"v","type":"quantitative","scale":{"domain":[0,100],"nice":false,"zero":false},"axis":null},"y":{"field":"row","type":"nominal","scale":{"type":"point","domain":["Points","Grade","IDH","MGMT","1p19q","PLOD1","Total Points","1−year survival","2−year survival","3−year survival"],"padding":0.48,"align":0.52},"axis":null},"text":{"field":"label"}}},
   {"data":{"name":"cat"},"transform":[{"filter":"datum.side == 'up' && datum.row != 'Grade'"}],"mark":{"type":"text","fontSize":8.5,"dy":-8,"dx":-1.5,"baseline":"middle","align":"left"},"encoding":{"x":{"field":"v","type":"quantitative","scale":{"domain":[0,100],"nice":false,"zero":false},"axis":null},"y":{"field":"row","type":"nominal","scale":{"type":"point","domain":["Points","Grade","IDH","MGMT","1p19q","PLOD1","Total Points","1−year survival","2−year survival","3−year survival"],"padding":0.48,"align":0.52},"axis":null},"text":{"field":"label"}}},
   {"data":{"name":"cat"},"transform":[{"filter":"datum.side == 'down' && datum.row == 'Grade'"}],"mark":{"type":"text","fontSize":8.5,"dy":9,"baseline":"middle","align":"center"},"encoding":{"x":{"field":"v","type":"quantitative","scale":{"domain":[0,100],"nice":false,"zero":false},"axis":null},"y":{"field":"row","type":"nominal","scale":{"type":"point","domain":["Points","Grade","IDH","MGMT","1p19q","PLOD1","Total Points","1−year survival","2−year survival","3−year survival"],"padding":0.48,"align":0.52},"axis":null},"text":{"field":"label"}}},
   {"data":{"name":"cat"},"transform":[{"filter":"datum.side == 'down' && datum.row != 'Grade'"}],"mark":{"type":"text","fontSize":8.5,"dy":9,"dx":-1.5,"baseline":"middle","align":"left"},"encoding":{"x":{"field":"v","type":"quantitative","scale":{"domain":[0,100],"nice":false,"zero":false},"axis":null},"y":{"field":"row","type":"nominal","scale":{"type":"point","domain":["Points","Grade","IDH","MGMT","1p19q","PLOD1","Total Points","1−year survival","2−year survival","3−year survival"],"padding":0.48,"align":0.52},"axis":null},"text":{"field":"label"}}},
   {"data":{"name":"plod"},"transform":[{"aggregate":[{"op":"min","field":"v","as":"lo"},{"op":"max","field":"v","as":"hi"}],"groupby":["row"]}],"mark":{"type":"rule","color":"#333","strokeWidth":0.8},"encoding":{"x":{"field":"lo","type":"quantitative","scale":{"domain":[2.5,8.5],"nice":false,"zero":false},"axis":null},"x2":{"field":"hi"},"y":{"field":"row","type":"nominal","scale":{"type":"point","domain":["Points","Grade","IDH","MGMT","1p19q","PLOD1","Total Points","1−year survival","2−year survival","3−year survival"],"padding":0.48,"align":0.52},"axis":null}}},
   {"data":{"name":"plod"},"mark":{"type":"tick","orient":"vertical","size":3,"thickness":0.8,"yOffset":1.5,"color":"#333"},"encoding":{"x":{"field":"v","type":"quantitative","scale":{"domain":[2.5,8.5],"nice":false,"zero":false},"axis":null},"y":{"field":"row","type":"nominal","scale":{"type":"point","domain":["Points","Grade","IDH","MGMT","1p19q","PLOD1","Total Points","1−year survival","2−year survival","3−year survival"],"padding":0.48,"align":0.52},"axis":null}}},
   {"data":{"name":"plod"},"mark":{"type":"text","fontSize":8.5,"dy":9,"baseline":"middle","align":"center"},"encoding":{"x":{"field":"v","type":"quantitative","scale":{"domain":[2.5,8.5],"nice":false,"zero":false},"axis":null},"y":{"field":"row","type":"nominal","scale":{"type":"point","domain":["Points","Grade","IDH","MGMT","1p19q","PLOD1","Total Points","1−year survival","2−year survival","3−year survival"],"padding":0.48,"align":0.52},"axis":null},"text":{"field":"label"}}},
   {"data":{"name":"tp"},"transform":[{"aggregate":[{"op":"min","field":"v","as":"lo"},{"op":"max","field":"v","as":"hi"}],"groupby":["row"]}],"mark":{"type":"rule","color":"#333","strokeWidth":0.8},"encoding":{"x":{"field":"lo","type":"quantitative","scale":{"domain":[0,280],"nice":false,"zero":false},"axis":null},"x2":{"field":"hi"},"y":{"field":"row","type":"nominal","scale":{"type":"point","domain":["Points","Grade","IDH","MGMT","1p19q","PLOD1","Total Points","1−year survival","2−year survival","3−year survival"],"padding":0.48,"align":0.52},"axis":null}}},
   {"data":{"name":"tp"},"mark":{"type":"tick","orient":"vertical","size":3,"thickness":0.7,"yOffset":1.5,"color":"#333"},"encoding":{"x":{"field":"v","type":"quantitative","scale":{"domain":[0,280],"nice":false,"zero":false},"axis":null},"y":{"field":"row","type":"nominal","scale":{"type":"point","domain":["Points","Grade","IDH","MGMT","1p19q","PLOD1","Total Points","1−year survival","2−year survival","3−year survival"],"padding":0.48,"align":0.52},"axis":null}}},
   {"data":{"name":"tp"},"transform":[{"filter":"datum.v % 20 == 0"}],"mark":{"type":"text","fontSize":8.5,"dy":9,"baseline":"middle","align":"center"},"encoding":{"x":{"field":"v","type":"quantitative","scale":{"domain":[0,280],"nice":false,"zero":false},"axis":null},"y":{"field":"row","type":"nominal","scale":{"type":"point","domain":["Points","Grade","IDH","MGMT","1p19q","PLOD1","Total Points","1−year survival","2−year survival","3−year survival"],"padding":0.48,"align":0.52},"axis":null},"text":{"field":"v","type":"quantitative","format":"d"}}},
   {"data":{"name":"surv"},"transform":[{"aggregate":[{"op":"min","field":"v","as":"lo"},{"op":"max","field":"v","as":"hi"}],"groupby":["row"]}],"mark":{"type":"rule","color":"#333","strokeWidth":0.8},"encoding":{"x":{"field":"lo","type":"quantitative","scale":{"domain":[0,280],"nice":false,"zero":false},"axis":null},"x2":{"field":"hi"},"y":{"field":"row","type":"nominal","scale":{"type":"point","domain":["Points","Grade","IDH","MGMT","1p19q","PLOD1","Total Points","1−year survival","2−year survival","3−year survival"],"padding":0.48,"align":0.52},"axis":null}}},
   {"data":{"name":"surv"},"mark":{"type":"tick","orient":"vertical","size":3,"thickness":0.8,"yOffset":1.5,"color":"#333"},"encoding":{"x":{"field":"v","type":"quantitative","scale":{"domain":[0,280],"nice":false,"zero":false},"axis":null},"y":{"field":"row","type":"nominal","scale":{"type":"point","domain":["Points","Grade","IDH","MGMT","1p19q","PLOD1","Total Points","1−year survival","2−year survival","3−year survival"],"padding":0.48,"align":0.52},"axis":null}}},
   {"data":{"name":"surv"},"mark":{"type":"text","fontSize":8.5,"dy":9,"baseline":"middle","align":"center"},"encoding":{"x":{"field":"v","type":"quantitative","scale":{"domain":[0,280],"nice":false,"zero":false},"axis":null},"y":{"field":"row","type":"nominal","scale":{"type":"point","domain":["Points","Grade","IDH","MGMT","1p19q","PLOD1","Total Points","1−year survival","2−year survival","3−year survival"],"padding":0.48,"align":0.52},"axis":null},"text":{"field":"label"}}}
 ]}
],"spacing":19.3,"bounds":"flush"},
{"hconcat":[
{"width":182.5,"height":132,"view":{"stroke":"#555","strokeWidth":0.8},
 "title":{"text":"D","anchor":"start","frame":"group","dx":-34,"offset":-6,"fontSize":12.5,"baseline":"alphabetic"},
 "layer":[
  {"data":{"values":[{"a":0.447,"b":0.969}]},"mark":{"type":"rule","color":"#dddddd","strokeWidth":1},"encoding":{"x":{"field":"a","type":"quantitative","scale":{"domain":[0.447,0.969],"nice":false,"zero":false},"axis":{"values":[0.5,0.6,0.7,0.8,0.9],"format":".1f","title":"Nomogram−Predicted Probability of 1−Year OS","labelFontSize":5.5,"titleFontSize":5.5,"tickSize":3,"tickColor":"#444","tickWidth":0.8,"domain":false,"labelPadding":4,"titlePadding":6,"labelFlush":false,"labelOverlap":false}},"x2":{"field":"b"},"y":{"field":"a","type":"quantitative","scale":{"domain":[0.341,1.026],"nice":false,"zero":false},"axis":{"values":[0.4,0.5,0.6,0.7,0.8,0.9,1.0],"format":".1f","title":"Actual 1−Year OS(proportion)","labelAngle":-90,"labelFontSize":5.5,"titleFontSize":5.5,"tickSize":3,"tickColor":"#444","tickWidth":0.8,"domain":false,"labelPadding":3,"titlePadding":7,"labelFlush":false,"labelOverlap":false}},"y2":{"field":"b"}}},
  {"data":{"name":"rugD"},"mark":{"type":"rule","color":"#8a8a8a","strokeWidth":0.6},"encoding":{"x":{"field":"x","type":"quantitative","scale":{"domain":[0.447,0.969],"nice":false,"zero":false},"axis":{"values":[0.5,0.6,0.7,0.8,0.9],"format":".1f","title":"Nomogram−Predicted Probability of 1−Year OS","labelFontSize":5.5,"titleFontSize":5.5,"tickSize":3,"tickColor":"#444","tickWidth":0.8,"domain":false,"labelPadding":4,"titlePadding":6,"labelFlush":false,"labelOverlap":false}},"y":{"field":"lo","type":"quantitative","scale":{"domain":[0.341,1.026],"nice":false,"zero":false},"axis":{"values":[0.4,0.5,0.6,0.7,0.8,0.9,1.0],"format":".1f","title":"Actual 1−Year OS(proportion)","labelAngle":-90,"labelFontSize":5.5,"titleFontSize":5.5,"tickSize":3,"tickColor":"#444","tickWidth":0.8,"domain":false,"labelPadding":3,"titlePadding":7,"labelFlush":false,"labelOverlap":false}},"y2":{"field":"hi"}}},
  {"data":{"name":"calD"},"mark":{"type":"rule","color":"#b8b8b8","strokeWidth":2.2},"encoding":{"x":{"field":"x","type":"quantitative","scale":{"domain":[0.447,0.969],"nice":false,"zero":false},"axis":{"values":[0.5,0.6,0.7,0.8,0.9],"format":".1f","title":"Nomogram−Predicted Probability of 1−Year OS","labelFontSize":5.5,"titleFontSize":5.5,"tickSize":3,"tickColor":"#444","tickWidth":0.8,"domain":false,"labelPadding":4,"titlePadding":6,"labelFlush":false,"labelOverlap":false}},"y":{"field":"lo","type":"quantitative","scale":{"domain":[0.341,1.026],"nice":false,"zero":false},"axis":{"values":[0.4,0.5,0.6,0.7,0.8,0.9,1.0],"format":".1f","title":"Actual 1−Year OS(proportion)","labelAngle":-90,"labelFontSize":5.5,"titleFontSize":5.5,"tickSize":3,"tickColor":"#444","tickWidth":0.8,"domain":false,"labelPadding":3,"titlePadding":7,"labelFlush":false,"labelOverlap":false}},"y2":{"field":"hi"}}},
  {"data":{"name":"calD"},"mark":{"type":"rule","color":"#666","strokeWidth":0.6},"encoding":{"x":{"field":"x","type":"quantitative","scale":{"domain":[0.447,0.969],"nice":false,"zero":false},"axis":{"values":[0.5,0.6,0.7,0.8,0.9],"format":".1f","title":"Nomogram−Predicted Probability of 1−Year OS","labelFontSize":5.5,"titleFontSize":5.5,"tickSize":3,"tickColor":"#444","tickWidth":0.8,"domain":false,"labelPadding":4,"titlePadding":6,"labelFlush":false,"labelOverlap":false}},"y":{"field":"lo","type":"quantitative","scale":{"domain":[0.341,1.026],"nice":false,"zero":false},"axis":{"values":[0.4,0.5,0.6,0.7,0.8,0.9,1.0],"format":".1f","title":"Actual 1−Year OS(proportion)","labelAngle":-90,"labelFontSize":5.5,"titleFontSize":5.5,"tickSize":3,"tickColor":"#444","tickWidth":0.8,"domain":false,"labelPadding":3,"titlePadding":7,"labelFlush":false,"labelOverlap":false}},"y2":{"field":"hi"}}},
  {"data":{"name":"calD"},"mark":{"type":"tick","orient":"horizontal","size":4,"thickness":0.8,"color":"#555"},"encoding":{"x":{"field":"x","type":"quantitative","scale":{"domain":[0.447,0.969],"nice":false,"zero":false},"axis":{"values":[0.5,0.6,0.7,0.8,0.9],"format":".1f","title":"Nomogram−Predicted Probability of 1−Year OS","labelFontSize":5.5,"titleFontSize":5.5,"tickSize":3,"tickColor":"#444","tickWidth":0.8,"domain":false,"labelPadding":4,"titlePadding":6,"labelFlush":false,"labelOverlap":false}},"y":{"field":"lo","type":"quantitative","scale":{"domain":[0.341,1.026],"nice":false,"zero":false},"axis":{"values":[0.4,0.5,0.6,0.7,0.8,0.9,1.0],"format":".1f","title":"Actual 1−Year OS(proportion)","labelAngle":-90,"labelFontSize":5.5,"titleFontSize":5.5,"tickSize":3,"tickColor":"#444","tickWidth":0.8,"domain":false,"labelPadding":3,"titlePadding":7,"labelFlush":false,"labelOverlap":false}}}},
  {"data":{"name":"calD"},"mark":{"type":"tick","orient":"horizontal","size":4,"thickness":0.8,"color":"#555"},"encoding":{"x":{"field":"x","type":"quantitative","scale":{"domain":[0.447,0.969],"nice":false,"zero":false},"axis":{"values":[0.5,0.6,0.7,0.8,0.9],"format":".1f","title":"Nomogram−Predicted Probability of 1−Year OS","labelFontSize":5.5,"titleFontSize":5.5,"tickSize":3,"tickColor":"#444","tickWidth":0.8,"domain":false,"labelPadding":4,"titlePadding":6,"labelFlush":false,"labelOverlap":false}},"y":{"field":"hi","type":"quantitative","scale":{"domain":[0.341,1.026],"nice":false,"zero":false},"axis":{"values":[0.4,0.5,0.6,0.7,0.8,0.9,1.0],"format":".1f","title":"Actual 1−Year OS(proportion)","labelAngle":-90,"labelFontSize":5.5,"titleFontSize":5.5,"tickSize":3,"tickColor":"#444","tickWidth":0.8,"domain":false,"labelPadding":3,"titlePadding":7,"labelFlush":false,"labelOverlap":false}}}},
  {"data":{"name":"calD"},"mark":{"type":"line","color":"#ff6464","strokeWidth":1},"encoding":{"x":{"field":"x","type":"quantitative","scale":{"domain":[0.447,0.969],"nice":false,"zero":false},"axis":{"values":[0.5,0.6,0.7,0.8,0.9],"format":".1f","title":"Nomogram−Predicted Probability of 1−Year OS","labelFontSize":5.5,"titleFontSize":5.5,"tickSize":3,"tickColor":"#444","tickWidth":0.8,"domain":false,"labelPadding":4,"titlePadding":6,"labelFlush":false,"labelOverlap":false}},"y":{"field":"obs","type":"quantitative","scale":{"domain":[0.341,1.026],"nice":false,"zero":false},"axis":{"values":[0.4,0.5,0.6,0.7,0.8,0.9,1.0],"format":".1f","title":"Actual 1−Year OS(proportion)","labelAngle":-90,"labelFontSize":5.5,"titleFontSize":5.5,"tickSize":3,"tickColor":"#444","tickWidth":0.8,"domain":false,"labelPadding":3,"titlePadding":7,"labelFlush":false,"labelOverlap":false}}}},
  {"data":{"name":"calD"},"mark":{"type":"point","shape":"square","filled":true,"size":12,"color":"#3b3bff","opacity":1},"encoding":{"x":{"field":"x","type":"quantitative","scale":{"domain":[0.447,0.969],"nice":false,"zero":false},"axis":{"values":[0.5,0.6,0.7,0.8,0.9],"format":".1f","title":"Nomogram−Predicted Probability of 1−Year OS","labelFontSize":5.5,"titleFontSize":5.5,"tickSize":3,"tickColor":"#444","tickWidth":0.8,"domain":false,"labelPadding":4,"titlePadding":6,"labelFlush":false,"labelOverlap":false}},"y":{"field":"cor","type":"quantitative","scale":{"domain":[0.341,1.026],"nice":false,"zero":false},"axis":{"values":[0.4,0.5,0.6,0.7,0.8,0.9,1.0],"format":".1f","title":"Actual 1−Year OS(proportion)","labelAngle":-90,"labelFontSize":5.5,"titleFontSize":5.5,"tickSize":3,"tickColor":"#444","tickWidth":0.8,"domain":false,"labelPadding":3,"titlePadding":7,"labelFlush":false,"labelOverlap":false}}}},
  {"data":{"name":"calD"},"mark":{"type":"point","shape":"square","filled":true,"size":7,"color":"#ee0000","opacity":0.85},"encoding":{"x":{"field":"x","type":"quantitative","scale":{"domain":[0.447,0.969],"nice":false,"zero":false},"axis":{"values":[0.5,0.6,0.7,0.8,0.9],"format":".1f","title":"Nomogram−Predicted Probability of 1−Year OS","labelFontSize":5.5,"titleFontSize":5.5,"tickSize":3,"tickColor":"#444","tickWidth":0.8,"domain":false,"labelPadding":4,"titlePadding":6,"labelFlush":false,"labelOverlap":false}},"y":{"field":"obs","type":"quantitative","scale":{"domain":[0.341,1.026],"nice":false,"zero":false},"axis":{"values":[0.4,0.5,0.6,0.7,0.8,0.9,1.0],"format":".1f","title":"Actual 1−Year OS(proportion)","labelAngle":-90,"labelFontSize":5.5,"titleFontSize":5.5,"tickSize":3,"tickColor":"#444","tickWidth":0.8,"domain":false,"labelPadding":3,"titlePadding":7,"labelFlush":false,"labelOverlap":false}}}}
 ]},
{"hconcat":[
{"width":182.5,"height":129,"view":{"stroke":"#555","strokeWidth":0.8},
 "title":{"text":"E","anchor":"start","frame":"group","dx":-37.2,"offset":-6.5,"fontSize":12.5,"baseline":"alphabetic"},
 "layer":[
  {"data":{"values":[{"a":0.17,"b":0.924}]},"mark":{"type":"rule","color":"#dddddd","strokeWidth":1},"encoding":{"x":{"field":"a","type":"quantitative","scale":{"domain":[0.168,0.924],"nice":false,"zero":false},"axis":{"values":[0.2,0.3,0.4,0.5,0.6,0.7,0.8,0.9],"format":".1f","title":"Nomogram−Predicted Probability of 2−Year OS","labelFontSize":5.5,"titleFontSize":5.5,"tickSize":3,"tickColor":"#444","tickWidth":0.8,"domain":false,"labelPadding":4,"titlePadding":6,"labelFlush":false,"labelOverlap":false}},"x2":{"field":"b"},"y":{"field":"a","type":"quantitative","scale":{"domain":[0.11,1.028],"nice":false,"zero":false},"axis":{"values":[0.2,0.4,0.6,0.8,1.0],"format":".1f","title":"Actual 2−Year OS(proportion)","labelAngle":-90,"labelFontSize":5.5,"titleFontSize":5.5,"tickSize":3,"tickColor":"#444","tickWidth":0.8,"domain":false,"labelPadding":3,"titlePadding":7,"labelFlush":false,"labelOverlap":false}},"y2":{"field":"b"}}},
  {"data":{"name":"rugE"},"mark":{"type":"rule","color":"#8a8a8a","strokeWidth":0.6},"encoding":{"x":{"field":"x","type":"quantitative","scale":{"domain":[0.168,0.924],"nice":false,"zero":false},"axis":{"values":[0.2,0.3,0.4,0.5,0.6,0.7,0.8,0.9],"format":".1f","title":"Nomogram−Predicted Probability of 2−Year OS","labelFontSize":5.5,"titleFontSize":5.5,"tickSize":3,"tickColor":"#444","tickWidth":0.8,"domain":false,"labelPadding":4,"titlePadding":6,"labelFlush":false,"labelOverlap":false}},"y":{"field":"lo","type":"quantitative","scale":{"domain":[0.11,1.028],"nice":false,"zero":false},"axis":{"values":[0.2,0.4,0.6,0.8,1.0],"format":".1f","title":"Actual 2−Year OS(proportion)","labelAngle":-90,"labelFontSize":5.5,"titleFontSize":5.5,"tickSize":3,"tickColor":"#444","tickWidth":0.8,"domain":false,"labelPadding":3,"titlePadding":7,"labelFlush":false,"labelOverlap":false}},"y2":{"field":"hi"}}},
  {"data":{"name":"calE"},"mark":{"type":"rule","color":"#b8b8b8","strokeWidth":2.2},"encoding":{"x":{"field":"x","type":"quantitative","scale":{"domain":[0.168,0.924],"nice":false,"zero":false},"axis":{"values":[0.2,0.3,0.4,0.5,0.6,0.7,0.8,0.9],"format":".1f","title":"Nomogram−Predicted Probability of 2−Year OS","labelFontSize":5.5,"titleFontSize":5.5,"tickSize":3,"tickColor":"#444","tickWidth":0.8,"domain":false,"labelPadding":4,"titlePadding":6,"labelFlush":false,"labelOverlap":false}},"y":{"field":"lo","type":"quantitative","scale":{"domain":[0.11,1.028],"nice":false,"zero":false},"axis":{"values":[0.2,0.4,0.6,0.8,1.0],"format":".1f","title":"Actual 2−Year OS(proportion)","labelAngle":-90,"labelFontSize":5.5,"titleFontSize":5.5,"tickSize":3,"tickColor":"#444","tickWidth":0.8,"domain":false,"labelPadding":3,"titlePadding":7,"labelFlush":false,"labelOverlap":false}},"y2":{"field":"hi"}}},
  {"data":{"name":"calE"},"mark":{"type":"rule","color":"#666","strokeWidth":0.6},"encoding":{"x":{"field":"x","type":"quantitative","scale":{"domain":[0.168,0.924],"nice":false,"zero":false},"axis":{"values":[0.2,0.3,0.4,0.5,0.6,0.7,0.8,0.9],"format":".1f","title":"Nomogram−Predicted Probability of 2−Year OS","labelFontSize":5.5,"titleFontSize":5.5,"tickSize":3,"tickColor":"#444","tickWidth":0.8,"domain":false,"labelPadding":4,"titlePadding":6,"labelFlush":false,"labelOverlap":false}},"y":{"field":"lo","type":"quantitative","scale":{"domain":[0.11,1.028],"nice":false,"zero":false},"axis":{"values":[0.2,0.4,0.6,0.8,1.0],"format":".1f","title":"Actual 2−Year OS(proportion)","labelAngle":-90,"labelFontSize":5.5,"titleFontSize":5.5,"tickSize":3,"tickColor":"#444","tickWidth":0.8,"domain":false,"labelPadding":3,"titlePadding":7,"labelFlush":false,"labelOverlap":false}},"y2":{"field":"hi"}}},
  {"data":{"name":"calE"},"mark":{"type":"tick","orient":"horizontal","size":4,"thickness":0.8,"color":"#555"},"encoding":{"x":{"field":"x","type":"quantitative","scale":{"domain":[0.168,0.924],"nice":false,"zero":false},"axis":{"values":[0.2,0.3,0.4,0.5,0.6,0.7,0.8,0.9],"format":".1f","title":"Nomogram−Predicted Probability of 2−Year OS","labelFontSize":5.5,"titleFontSize":5.5,"tickSize":3,"tickColor":"#444","tickWidth":0.8,"domain":false,"labelPadding":4,"titlePadding":6,"labelFlush":false,"labelOverlap":false}},"y":{"field":"lo","type":"quantitative","scale":{"domain":[0.11,1.028],"nice":false,"zero":false},"axis":{"values":[0.2,0.4,0.6,0.8,1.0],"format":".1f","title":"Actual 2−Year OS(proportion)","labelAngle":-90,"labelFontSize":5.5,"titleFontSize":5.5,"tickSize":3,"tickColor":"#444","tickWidth":0.8,"domain":false,"labelPadding":3,"titlePadding":7,"labelFlush":false,"labelOverlap":false}}}},
  {"data":{"name":"calE"},"mark":{"type":"tick","orient":"horizontal","size":4,"thickness":0.8,"color":"#555"},"encoding":{"x":{"field":"x","type":"quantitative","scale":{"domain":[0.168,0.924],"nice":false,"zero":false},"axis":{"values":[0.2,0.3,0.4,0.5,0.6,0.7,0.8,0.9],"format":".1f","title":"Nomogram−Predicted Probability of 2−Year OS","labelFontSize":5.5,"titleFontSize":5.5,"tickSize":3,"tickColor":"#444","tickWidth":0.8,"domain":false,"labelPadding":4,"titlePadding":6,"labelFlush":false,"labelOverlap":false}},"y":{"field":"hi","type":"quantitative","scale":{"domain":[0.11,1.028],"nice":false,"zero":false},"axis":{"values":[0.2,0.4,0.6,0.8,1.0],"format":".1f","title":"Actual 2−Year OS(proportion)","labelAngle":-90,"labelFontSize":5.5,"titleFontSize":5.5,"tickSize":3,"tickColor":"#444","tickWidth":0.8,"domain":false,"labelPadding":3,"titlePadding":7,"labelFlush":false,"labelOverlap":false}}}},
  {"data":{"name":"calE"},"mark":{"type":"line","color":"#ff6464","strokeWidth":1},"encoding":{"x":{"field":"x","type":"quantitative","scale":{"domain":[0.168,0.924],"nice":false,"zero":false},"axis":{"values":[0.2,0.3,0.4,0.5,0.6,0.7,0.8,0.9],"format":".1f","title":"Nomogram−Predicted Probability of 2−Year OS","labelFontSize":5.5,"titleFontSize":5.5,"tickSize":3,"tickColor":"#444","tickWidth":0.8,"domain":false,"labelPadding":4,"titlePadding":6,"labelFlush":false,"labelOverlap":false}},"y":{"field":"obs","type":"quantitative","scale":{"domain":[0.11,1.028],"nice":false,"zero":false},"axis":{"values":[0.2,0.4,0.6,0.8,1.0],"format":".1f","title":"Actual 2−Year OS(proportion)","labelAngle":-90,"labelFontSize":5.5,"titleFontSize":5.5,"tickSize":3,"tickColor":"#444","tickWidth":0.8,"domain":false,"labelPadding":3,"titlePadding":7,"labelFlush":false,"labelOverlap":false}}}},
  {"data":{"name":"calE"},"mark":{"type":"point","shape":"square","filled":true,"size":12,"color":"#3b3bff","opacity":1},"encoding":{"x":{"field":"x","type":"quantitative","scale":{"domain":[0.168,0.924],"nice":false,"zero":false},"axis":{"values":[0.2,0.3,0.4,0.5,0.6,0.7,0.8,0.9],"format":".1f","title":"Nomogram−Predicted Probability of 2−Year OS","labelFontSize":5.5,"titleFontSize":5.5,"tickSize":3,"tickColor":"#444","tickWidth":0.8,"domain":false,"labelPadding":4,"titlePadding":6,"labelFlush":false,"labelOverlap":false}},"y":{"field":"cor","type":"quantitative","scale":{"domain":[0.11,1.028],"nice":false,"zero":false},"axis":{"values":[0.2,0.4,0.6,0.8,1.0],"format":".1f","title":"Actual 2−Year OS(proportion)","labelAngle":-90,"labelFontSize":5.5,"titleFontSize":5.5,"tickSize":3,"tickColor":"#444","tickWidth":0.8,"domain":false,"labelPadding":3,"titlePadding":7,"labelFlush":false,"labelOverlap":false}}}},
  {"data":{"name":"calE"},"mark":{"type":"point","shape":"square","filled":true,"size":7,"color":"#ee0000","opacity":0.85},"encoding":{"x":{"field":"x","type":"quantitative","scale":{"domain":[0.168,0.924],"nice":false,"zero":false},"axis":{"values":[0.2,0.3,0.4,0.5,0.6,0.7,0.8,0.9],"format":".1f","title":"Nomogram−Predicted Probability of 2−Year OS","labelFontSize":5.5,"titleFontSize":5.5,"tickSize":3,"tickColor":"#444","tickWidth":0.8,"domain":false,"labelPadding":4,"titlePadding":6,"labelFlush":false,"labelOverlap":false}},"y":{"field":"obs","type":"quantitative","scale":{"domain":[0.11,1.028],"nice":false,"zero":false},"axis":{"values":[0.2,0.4,0.6,0.8,1.0],"format":".1f","title":"Actual 2−Year OS(proportion)","labelAngle":-90,"labelFontSize":5.5,"titleFontSize":5.5,"tickSize":3,"tickColor":"#444","tickWidth":0.8,"domain":false,"labelPadding":3,"titlePadding":7,"labelFlush":false,"labelOverlap":false}}}}
 ]},
{"width":182.5,"height":129,"view":{"stroke":"#555","strokeWidth":0.8},
 "title":{"text":"F","anchor":"start","frame":"group","dx":-25.3,"offset":-6.5,"fontSize":12.5,"baseline":"alphabetic"},
 "layer":[
  {"data":{"values":[{"a":0.078,"b":0.894}]},"mark":{"type":"rule","color":"#dddddd","strokeWidth":1},"encoding":{"x":{"field":"a","type":"quantitative","scale":{"domain":[0.078,0.894],"nice":false,"zero":false},"axis":{"values":[0.2,0.4,0.6,0.8],"format":".1f","title":"Nomogram−Predicted Probability of 3−Year OS","labelFontSize":5.5,"titleFontSize":5.5,"tickSize":3,"tickColor":"#444","tickWidth":0.8,"domain":false,"labelPadding":4,"titlePadding":6,"labelFlush":false,"labelOverlap":false}},"x2":{"field":"b"},"y":{"field":"a","type":"quantitative","scale":{"domain":[0.044,1.005],"nice":false,"zero":false},"axis":{"values":[0.2,0.4,0.6,0.8,1.0],"format":".1f","title":"Actual 3−Year OS(proportion)","labelAngle":-90,"labelFontSize":5.5,"titleFontSize":5.5,"tickSize":3,"tickColor":"#444","tickWidth":0.8,"domain":false,"labelPadding":3,"titlePadding":7,"labelFlush":false,"labelOverlap":false}},"y2":{"field":"b"}}},
  {"data":{"name":"rugF"},"mark":{"type":"rule","color":"#8a8a8a","strokeWidth":0.6},"encoding":{"x":{"field":"x","type":"quantitative","scale":{"domain":[0.078,0.894],"nice":false,"zero":false},"axis":{"values":[0.2,0.4,0.6,0.8],"format":".1f","title":"Nomogram−Predicted Probability of 3−Year OS","labelFontSize":5.5,"titleFontSize":5.5,"tickSize":3,"tickColor":"#444","tickWidth":0.8,"domain":false,"labelPadding":4,"titlePadding":6,"labelFlush":false,"labelOverlap":false}},"y":{"field":"lo","type":"quantitative","scale":{"domain":[0.044,1.005],"nice":false,"zero":false},"axis":{"values":[0.2,0.4,0.6,0.8,1.0],"format":".1f","title":"Actual 3−Year OS(proportion)","labelAngle":-90,"labelFontSize":5.5,"titleFontSize":5.5,"tickSize":3,"tickColor":"#444","tickWidth":0.8,"domain":false,"labelPadding":3,"titlePadding":7,"labelFlush":false,"labelOverlap":false}},"y2":{"field":"hi"}}},
  {"data":{"name":"calF"},"mark":{"type":"rule","color":"#b8b8b8","strokeWidth":2.2},"encoding":{"x":{"field":"x","type":"quantitative","scale":{"domain":[0.078,0.894],"nice":false,"zero":false},"axis":{"values":[0.2,0.4,0.6,0.8],"format":".1f","title":"Nomogram−Predicted Probability of 3−Year OS","labelFontSize":5.5,"titleFontSize":5.5,"tickSize":3,"tickColor":"#444","tickWidth":0.8,"domain":false,"labelPadding":4,"titlePadding":6,"labelFlush":false,"labelOverlap":false}},"y":{"field":"lo","type":"quantitative","scale":{"domain":[0.044,1.005],"nice":false,"zero":false},"axis":{"values":[0.2,0.4,0.6,0.8,1.0],"format":".1f","title":"Actual 3−Year OS(proportion)","labelAngle":-90,"labelFontSize":5.5,"titleFontSize":5.5,"tickSize":3,"tickColor":"#444","tickWidth":0.8,"domain":false,"labelPadding":3,"titlePadding":7,"labelFlush":false,"labelOverlap":false}},"y2":{"field":"hi"}}},
  {"data":{"name":"calF"},"mark":{"type":"rule","color":"#666","strokeWidth":0.6},"encoding":{"x":{"field":"x","type":"quantitative","scale":{"domain":[0.078,0.894],"nice":false,"zero":false},"axis":{"values":[0.2,0.4,0.6,0.8],"format":".1f","title":"Nomogram−Predicted Probability of 3−Year OS","labelFontSize":5.5,"titleFontSize":5.5,"tickSize":3,"tickColor":"#444","tickWidth":0.8,"domain":false,"labelPadding":4,"titlePadding":6,"labelFlush":false,"labelOverlap":false}},"y":{"field":"lo","type":"quantitative","scale":{"domain":[0.044,1.005],"nice":false,"zero":false},"axis":{"values":[0.2,0.4,0.6,0.8,1.0],"format":".1f","title":"Actual 3−Year OS(proportion)","labelAngle":-90,"labelFontSize":5.5,"titleFontSize":5.5,"tickSize":3,"tickColor":"#444","tickWidth":0.8,"domain":false,"labelPadding":3,"titlePadding":7,"labelFlush":false,"labelOverlap":false}},"y2":{"field":"hi"}}},
  {"data":{"name":"calF"},"mark":{"type":"tick","orient":"horizontal","size":4,"thickness":0.8,"color":"#555"},"encoding":{"x":{"field":"x","type":"quantitative","scale":{"domain":[0.078,0.894],"nice":false,"zero":false},"axis":{"values":[0.2,0.4,0.6,0.8],"format":".1f","title":"Nomogram−Predicted Probability of 3−Year OS","labelFontSize":5.5,"titleFontSize":5.5,"tickSize":3,"tickColor":"#444","tickWidth":0.8,"domain":false,"labelPadding":4,"titlePadding":6,"labelFlush":false,"labelOverlap":false}},"y":{"field":"lo","type":"quantitative","scale":{"domain":[0.044,1.005],"nice":false,"zero":false},"axis":{"values":[0.2,0.4,0.6,0.8,1.0],"format":".1f","title":"Actual 3−Year OS(proportion)","labelAngle":-90,"labelFontSize":5.5,"titleFontSize":5.5,"tickSize":3,"tickColor":"#444","tickWidth":0.8,"domain":false,"labelPadding":3,"titlePadding":7,"labelFlush":false,"labelOverlap":false}}}},
  {"data":{"name":"calF"},"mark":{"type":"tick","orient":"horizontal","size":4,"thickness":0.8,"color":"#555"},"encoding":{"x":{"field":"x","type":"quantitative","scale":{"domain":[0.078,0.894],"nice":false,"zero":false},"axis":{"values":[0.2,0.4,0.6,0.8],"format":".1f","title":"Nomogram−Predicted Probability of 3−Year OS","labelFontSize":5.5,"titleFontSize":5.5,"tickSize":3,"tickColor":"#444","tickWidth":0.8,"domain":false,"labelPadding":4,"titlePadding":6,"labelFlush":false,"labelOverlap":false}},"y":{"field":"hi","type":"quantitative","scale":{"domain":[0.044,1.005],"nice":false,"zero":false},"axis":{"values":[0.2,0.4,0.6,0.8,1.0],"format":".1f","title":"Actual 3−Year OS(proportion)","labelAngle":-90,"labelFontSize":5.5,"titleFontSize":5.5,"tickSize":3,"tickColor":"#444","tickWidth":0.8,"domain":false,"labelPadding":3,"titlePadding":7,"labelFlush":false,"labelOverlap":false}}}},
  {"data":{"name":"calF"},"mark":{"type":"line","color":"#ff6464","strokeWidth":1},"encoding":{"x":{"field":"x","type":"quantitative","scale":{"domain":[0.078,0.894],"nice":false,"zero":false},"axis":{"values":[0.2,0.4,0.6,0.8],"format":".1f","title":"Nomogram−Predicted Probability of 3−Year OS","labelFontSize":5.5,"titleFontSize":5.5,"tickSize":3,"tickColor":"#444","tickWidth":0.8,"domain":false,"labelPadding":4,"titlePadding":6,"labelFlush":false,"labelOverlap":false}},"y":{"field":"obs","type":"quantitative","scale":{"domain":[0.044,1.005],"nice":false,"zero":false},"axis":{"values":[0.2,0.4,0.6,0.8,1.0],"format":".1f","title":"Actual 3−Year OS(proportion)","labelAngle":-90,"labelFontSize":5.5,"titleFontSize":5.5,"tickSize":3,"tickColor":"#444","tickWidth":0.8,"domain":false,"labelPadding":3,"titlePadding":7,"labelFlush":false,"labelOverlap":false}}}},
  {"data":{"name":"calF"},"mark":{"type":"point","shape":"square","filled":true,"size":12,"color":"#3b3bff","opacity":1},"encoding":{"x":{"field":"x","type":"quantitative","scale":{"domain":[0.078,0.894],"nice":false,"zero":false},"axis":{"values":[0.2,0.4,0.6,0.8],"format":".1f","title":"Nomogram−Predicted Probability of 3−Year OS","labelFontSize":5.5,"titleFontSize":5.5,"tickSize":3,"tickColor":"#444","tickWidth":0.8,"domain":false,"labelPadding":4,"titlePadding":6,"labelFlush":false,"labelOverlap":false}},"y":{"field":"cor","type":"quantitative","scale":{"domain":[0.044,1.005],"nice":false,"zero":false},"axis":{"values":[0.2,0.4,0.6,0.8,1.0],"format":".1f","title":"Actual 3−Year OS(proportion)","labelAngle":-90,"labelFontSize":5.5,"titleFontSize":5.5,"tickSize":3,"tickColor":"#444","tickWidth":0.8,"domain":false,"labelPadding":3,"titlePadding":7,"labelFlush":false,"labelOverlap":false}}}},
  {"data":{"name":"calF"},"mark":{"type":"point","shape":"square","filled":true,"size":7,"color":"#ee0000","opacity":0.85},"encoding":{"x":{"field":"x","type":"quantitative","scale":{"domain":[0.078,0.894],"nice":false,"zero":false},"axis":{"values":[0.2,0.4,0.6,0.8],"format":".1f","title":"Nomogram−Predicted Probability of 3−Year OS","labelFontSize":5.5,"titleFontSize":5.5,"tickSize":3,"tickColor":"#444","tickWidth":0.8,"domain":false,"labelPadding":4,"titlePadding":6,"labelFlush":false,"labelOverlap":false}},"y":{"field":"obs","type":"quantitative","scale":{"domain":[0.044,1.005],"nice":false,"zero":false},"axis":{"values":[0.2,0.4,0.6,0.8,1.0],"format":".1f","title":"Actual 3−Year OS(proportion)","labelAngle":-90,"labelFontSize":5.5,"titleFontSize":5.5,"tickSize":3,"tickColor":"#444","tickWidth":0.8,"domain":false,"labelPadding":3,"titlePadding":7,"labelFlush":false,"labelOverlap":false}}}}
 ]}
],"spacing":100.3,"bounds":"flush"}
],"spacing":115.1,"bounds":"flush"}
],"spacing":300.5,"bounds":"flush"}
],
"spacing":195,
"bounds":"flush"
}
